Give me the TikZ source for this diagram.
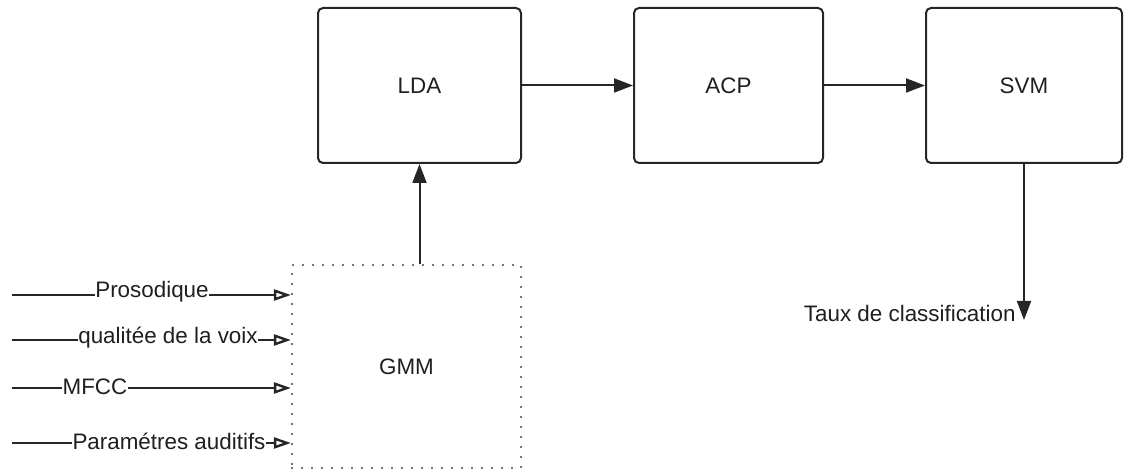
\documentclass[tikz,border=0pt]{standalone}
\usepackage{fontspec}
\setmainfont{Liberation Sans}
\usetikzlibrary{arrows.meta}
\begin{document}
\begin{tikzpicture}[x=0.5pt,y=-0.5pt,
  every node/.style={font=\fontsize{11.2}{13}\selectfont, text=black!88},
  blockbox/.style={draw=black!85, line width=1pt, rounded corners=2.5pt, inner sep=0pt},
  dotbox/.style={draw=black!75, line width=1.1pt, line cap=round, dash pattern=on 0pt off 5pt, inner sep=0pt},
  flow/.style={draw=black!85, line width=1pt, -{Triangle[length=9.5pt,width=7pt]}},
  feed/.style={draw=black!85, line width=1pt, -{Triangle[open,length=8.5pt,width=5.5pt,line width=1.2pt]}},
  lbl/.style={fill=white, inner sep=0.3pt}]
\useasboundingbox (0,0) rectangle (1132,469);
\node[blockbox, minimum width=101.5pt, minimum height=77.5pt] (lda) at (419.5,85.5) {LDA};
\node[blockbox, minimum width=94.5pt, minimum height=77.5pt] (acp) at (728.5,85.5) {ACP};
\node[blockbox, minimum width=98pt, minimum height=77.5pt] (svm) at (1024,85.5) {SVM};
\node[dotbox, minimum width=114.5pt, minimum height=101.5pt] (gmm) at (406.5,366.5) {GMM};
\draw[flow] (lda) -- (acp);
\draw[flow] (acp) -- (svm);
\draw[flow] (gmm.north -| lda.south) -- (lda.south);
\coordinate (out) at (1024,320);
\draw[flow] (svm.south) -- (out);
\node[anchor=east, inner sep=0pt] (taux) at (1016,313) {Taux de classification};
\coordinate (s1) at (12,295);
\coordinate (s2) at (12,340);
\coordinate (s3) at (12,388);
\coordinate (s4) at (12,443);
\draw[feed] (s1) -- (gmm.west |- s1);
\draw[feed] (s2) -- (gmm.west |- s2);
\draw[feed] (s3) -- (gmm.west |- s3);
\draw[feed] (s4) -- (gmm.west |- s4);
\node[lbl] (p1) at (152,292) {Prosodique};
\node[lbl] (p2) at (168,338) {qualitée de la voix};
\node[lbl] (p3) at (95,387) {MFCC};
\node[lbl] (p4) at (169,441) {Paramétres auditifs};
\end{tikzpicture}
\end{document}
